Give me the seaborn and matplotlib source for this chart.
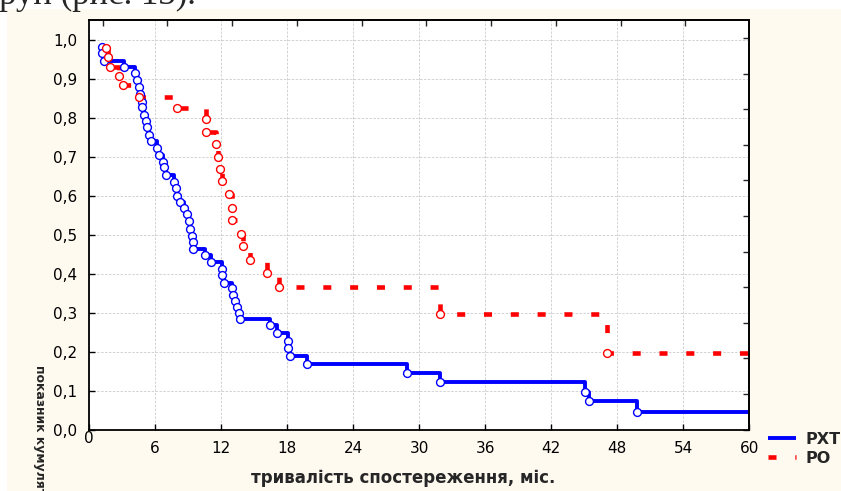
import matplotlib
matplotlib.use("Agg")
import numpy as np
import pandas as pd
import matplotlib.pyplot as plt
import seaborn as sns
from matplotlib.patches import Rectangle
from matplotlib.transforms import ScaledTranslation

# ---------------------------------------------------------------- data
group_labels = ["РХТ", "РО"]

# РХТ: month of each death and the cumulative survival right after it
rxt_time = [1.22, 1.22, 1.38, 3.20, 4.20, 4.35, 4.54, 4.65, 4.84, 4.84,
            5.02, 5.17, 5.32, 5.50, 5.65, 6.23, 6.35, 6.72, 6.86, 7.02,
            7.75, 7.93, 7.99, 8.29, 8.65, 8.95, 9.14, 9.20, 9.35, 9.45,
            9.50, 10.56, 11.08, 12.08, 12.08, 12.32, 12.99, 13.14, 13.29, 13.50,
            13.63, 13.70, 16.47, 17.11, 18.14, 18.14, 18.29, 19.79, 28.93, 31.86,
            45.10, 45.47, 49.79]
rxt_surv = [0.983, 0.966, 0.947, 0.931, 0.915, 0.896, 0.879, 0.861, 0.842, 0.827,
            0.807, 0.792, 0.776, 0.756, 0.741, 0.723, 0.705, 0.688, 0.673, 0.653,
            0.636, 0.619, 0.600, 0.585, 0.568, 0.552, 0.534, 0.515, 0.497, 0.481,
            0.463, 0.448, 0.431, 0.412, 0.396, 0.377, 0.362, 0.346, 0.331, 0.315,
            0.300, 0.284, 0.267, 0.249, 0.228, 0.209, 0.189, 0.169, 0.145, 0.121,
            0.097, 0.073, 0.046]

# РО: same layout
ro_time = [1.59, 1.77, 1.93, 2.75, 3.08, 4.55, 7.99, 10.63, 10.63, 11.56,
           11.72, 11.90, 12.11, 12.75, 13.02, 13.05, 13.86, 14.02, 14.68, 16.15,
           17.31, 31.86, 47.08]
ro_surv = [0.979, 0.956, 0.931, 0.907, 0.884, 0.854, 0.825, 0.796, 0.765, 0.733,
           0.700, 0.668, 0.637, 0.605, 0.569, 0.537, 0.503, 0.470, 0.434, 0.403,
           0.367, 0.296, 0.196]

follow_up_end = 60

x_ticks = [0, 6, 12, 18, 24, 30, 36, 42, 48, 54, 60]
y_ticks = [0.0, 0.1, 0.2, 0.3, 0.4, 0.5, 0.6, 0.7, 0.8, 0.9, 1.0]
y_tick_labels = ["0,0", "0,1", "0,2", "0,3", "0,4", "0,5",
                 "0,6", "0,7", "0,8", "0,9", "1,0"]
x_label = "тривалість спостереження, міс."
y_label = "показник кумулятивного виживання"
caption_fragment = "груп (рис. 13)."

# ---------------------------------------------------------------- style
sns.set_style("white")
plt.rcParams["font.family"] = ["DejaVu Sans"]

palette = {"РХТ": "#0000ff", "РО": "#ff0000"}
line_styles = {"РХТ": "-", "РО": (0, (1.75, 4.1))}
line_widths = {"РХТ": 2.8, "РО": 3.3}

W, H = 841, 491
fig = plt.figure(figsize=(W / 100, H / 100), dpi=100)
fig.patch.set_facecolor("white")
# cream panel behind the chart
fig.patches.append(Rectangle((7 / W, 0), 1 - 7 / W, 1 - 9 / H,
                             transform=fig.transFigure, facecolor="#fffaf0",
                             edgecolor="none", zorder=-5))

left, right, top, bottom = 88.8, 749.3, 20.5, 429.5
ax = fig.add_axes([left / W, 1 - bottom / H, (right - left) / W, (bottom - top) / H])
ax.set_facecolor("white")


def km_frames(label, times, surv):
    steps = pd.DataFrame({"time": list(times) + [follow_up_end],
                          "surv": list(surv) + [surv[-1]]})
    steps["group"] = label
    events = pd.DataFrame({"time": times, "surv": surv})
    events["group"] = label
    return steps, events


handles = []
for k, (label, t, s) in enumerate([(group_labels[0], rxt_time, rxt_surv),
                                   (group_labels[1], ro_time, ro_surv)]):
    steps, events = km_frames(label, t, s)
    sns.lineplot(data=steps, x="time", y="surv", ax=ax, color=palette[label],
                 linewidth=line_widths[label], linestyle=line_styles[label],
                 drawstyle="steps-post", estimator=None, sort=False,
                 dash_capstyle="butt", solid_capstyle="butt",
                 zorder=2 + 0.1 * k, legend=False)
    handles.append(ax.lines[-1])
    sns.scatterplot(data=events, x="time", y="surv", ax=ax, marker="o", s=32,
                    color=palette[label], facecolor="white",
                    edgecolor=palette[label], linewidth=1.0,
                    zorder=3 + 0.1 * k, legend=False)

ax.set_xlim(0, 60)
ax.set_ylim(0, 1.05)
ax.set_xticks(x_ticks)
ax.set_xticklabels([str(v) for v in x_ticks])
ax.set_yticks(y_ticks)
ax.set_yticklabels(y_tick_labels)
ax.grid(True, color="#d2d2d2", linestyle=(0, (2.5, 1.5)), linewidth=0.7)
ax.set_axisbelow(True)
for sp in ax.spines.values():
    sp.set_visible(True)
    sp.set_color("black")
    sp.set_linewidth(1.3)
ax.tick_params(direction="in", length=4, width=1.0, labelsize=11,
               colors="black", left=True, bottom=True)
ax.tick_params(axis="y", pad=8.5)
ax.tick_params(axis="x", pad=8.6)

# the first bottom label sits a little higher
zero_lab = ax.xaxis.get_major_ticks()[0].label1
zero_lab.set_transform(zero_lab.get_transform()
                       + ScaledTranslation(0, 10 / 100, fig.dpi_scale_trans))

# secondary scales on the opposite sides (ticks only)
sec_top = ax.secondary_xaxis("top")
sec_top.set_xticks(np.linspace(1.26, 54.2, 10))
sec_top.tick_params(direction="in", length=4, width=1.0, labeltop=False)
sec_top.spines["top"].set_linewidth(1.3)
sec_right = ax.secondary_yaxis("right")
sec_right.set_yticks(np.linspace(0, 1.005, 12))
sec_right.tick_params(direction="in", length=4, width=1.0, labelright=False)
sec_right.spines["right"].set_linewidth(1.3)

ax.set_xlabel(x_label, fontsize=12, fontweight="bold")
ax.xaxis.label.set_va("center")
ax.xaxis.set_label_coords((403 - left) / (right - left), (bottom - 478) / (bottom - top))

# vertical label reads downward from just below the lower ticks
ax.set_ylabel(y_label, fontsize=9, fontweight="bold", rotation=-90)
ax.yaxis.label.set_rotation_mode("anchor")
ax.yaxis.label.set_ha("left")
ax.yaxis.label.set_va("center")
ax.yaxis.set_label_coords((40 - left) / (right - left), (bottom - 365) / (bottom - top))

leg = ax.legend(handles=handles, labels=group_labels, loc="upper left",
                bbox_to_anchor=(768 / W, 1 - 432 / H), bbox_transform=fig.transFigure,
                frameon=False, borderpad=0, borderaxespad=0, handlelength=1.75,
                handletextpad=0.62, labelspacing=0.25,
                prop={"weight": "bold", "size": 11.5})

fig.text(-15 / W, 1 - 4 / H, caption_fragment, family="Liberation Serif",
         fontsize=25, ha="left", va="baseline")

fig.savefig("out.png", dpi=100, facecolor=fig.get_facecolor())
